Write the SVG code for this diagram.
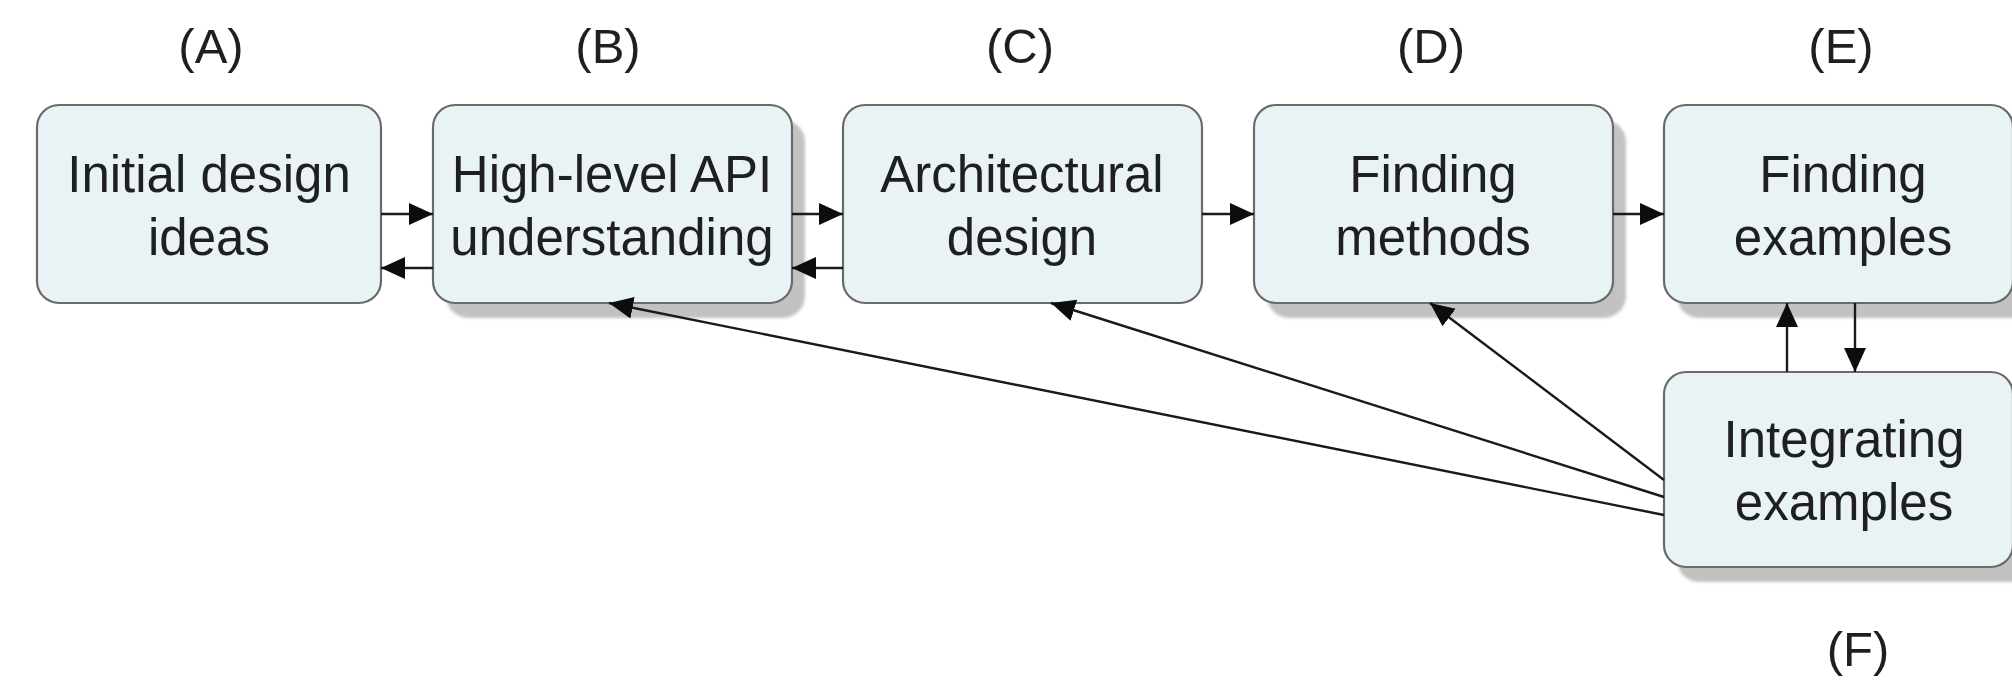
<svg xmlns="http://www.w3.org/2000/svg" width="2012" height="680" viewBox="0 0 2012 680">
  <style>
    .box { fill: #e9f3f5; stroke: #6a6a6a; stroke-width: 2.2; }
    .shadow { fill: #c2c2c2; filter: url(#blur); }
    .t { font-family: "Liberation Sans", Arial, sans-serif; font-size: 51px; fill: #1f1f1f; text-anchor: middle; }
    .lbl { font-family: "Liberation Sans", Arial, sans-serif; font-size: 49px; fill: #1f1f1f; text-anchor: middle; }
    .c { fill: none; stroke: #1a1a1a; stroke-width: 2.4; marker-end: url(#ah); }
  </style>
  <defs>
    <filter id="blur" x="-5%" y="-5%" width="110%" height="110%">
      <feGaussianBlur stdDeviation="1.5"/>
    </filter>
    <marker id="ah" markerUnits="userSpaceOnUse" markerWidth="26" markerHeight="24" refX="24" refY="11" orient="auto" viewBox="0 0 26 24">
      <path d="M0,0 L24,11 L0,22 z" fill="#0d0d0d"/>
    </marker>
  </defs>
  <rect width="2012" height="680" fill="#ffffff"/>

  <g id="labels">
    <text class="lbl" x="211" y="63">(A)</text>
    <text class="lbl" x="608" y="63">(B)</text>
    <text class="lbl" x="1020" y="63">(C)</text>
    <text class="lbl" x="1431" y="63">(D)</text>
    <text class="lbl" x="1841" y="63">(E)</text>
    <text class="lbl" x="1858" y="666">(F)</text>
  </g>

  <g id="node-A">
    <rect class="box" x="37" y="105" width="344" height="198" rx="22"/>
    <text class="t" x="209" y="192">Initial design</text>
    <text class="t" x="209" y="255">ideas</text>
  </g>
  <g id="node-B">
    <rect class="shadow" x="446" y="120" width="359" height="198" rx="22"/>
    <rect class="box" x="433" y="105" width="359" height="198" rx="22"/>
    <text class="t" x="612" y="192">High-level API</text>
    <text class="t" x="612" y="255">understanding</text>
  </g>
  <g id="node-C">
    <rect class="box" x="843" y="105" width="359" height="198" rx="22"/>
    <text class="t" x="1022" y="192">Architectural</text>
    <text class="t" x="1022" y="255">design</text>
  </g>
  <g id="node-D">
    <rect class="shadow" x="1267" y="120" width="359" height="198" rx="22"/>
    <rect class="box" x="1254" y="105" width="359" height="198" rx="22"/>
    <text class="t" x="1433" y="192">Finding</text>
    <text class="t" x="1433" y="255">methods</text>
  </g>
  <g id="node-E">
    <rect class="shadow" x="1677" y="120" width="359" height="198" rx="22"/>
    <rect class="box" x="1664" y="105" width="349" height="198" rx="22"/>
    <text class="t" x="1843" y="192">Finding</text>
    <text class="t" x="1843" y="255">examples</text>
  </g>
  <g id="node-F">
    <rect class="shadow" x="1677" y="387" width="359" height="195" rx="22"/>
    <rect class="box" x="1664" y="372" width="349" height="195" rx="22"/>
    <text class="t" x="1844" y="457">Integrating</text>
    <text class="t" x="1844" y="520">examples</text>
  </g>

  <g id="connectors">
    <path class="c" d="M381,214 H433"/>
    <path class="c" d="M433,268 H381"/>
    <path class="c" d="M792,214 H843"/>
    <path class="c" d="M843,268 H792"/>
    <path class="c" d="M1202,214 H1254"/>
    <path class="c" d="M1613,214 H1664"/>
    <path class="c" d="M1787,372 V303"/>
    <path class="c" d="M1855,303 V372"/>
    <path class="c" d="M1664,480 L1430,303"/>
    <path class="c" d="M1664,497 L1051,303"/>
    <path class="c" d="M1664,515 L609,303"/>
  </g>
</svg>
